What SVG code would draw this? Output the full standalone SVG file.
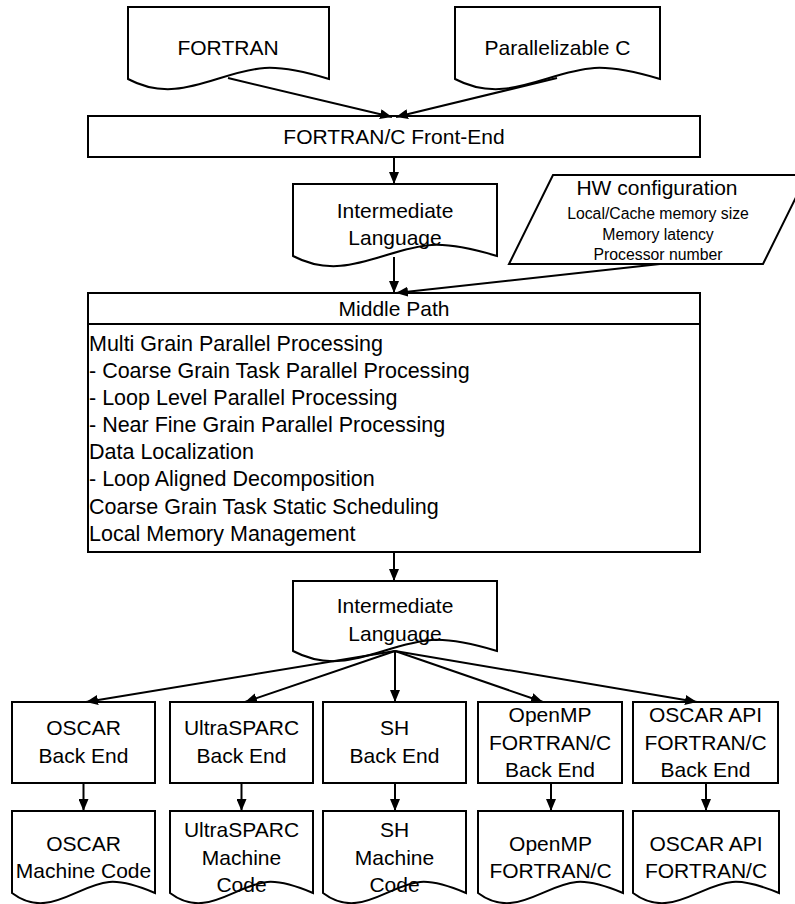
<svg xmlns="http://www.w3.org/2000/svg" width="795" height="904" viewBox="0 0 795 904">
  <defs>
    <marker id="ah" markerUnits="userSpaceOnUse" markerWidth="12" markerHeight="10" refX="12" refY="5" orient="auto">
      <path d="M0,0 L12,5 L0,10 z" fill="#000"/>
    </marker>
    <style>
      .shape { fill: #fff; stroke: #000; stroke-width: 2; }
      .wire { fill: none; stroke: #000; stroke-width: 2; marker-end: url(#ah); }
      text { font-family: "Liberation Sans", Arial, sans-serif; font-size: 21px; fill: #000; }
      .c { text-anchor: middle; }
      .list { font-size: 21.5px; }
      .small { font-size: 15.8px; }
    </style>
  </defs>
  <rect width="795" height="904" fill="#fff"/>

  <!-- source documents -->
  <g id="src-fortran">
    <path class="shape" d="M128,7 V79 C178.25,106 218.45,71 264.7,68 C284.8,66.7 308.9,73 329,79 V7 Z"/>
    <text class="c" x="228" y="55">FORTRAN</text>
  </g>
  <g id="src-c">
    <path class="shape" d="M455,7 V79 C506.25,106 547.25,71 594.4,68 C614.9,66.7 639.5,73 660,79 V7 Z"/>
    <text class="c" x="557.5" y="55">Parallelizable C</text>
  </g>

  <!-- front end -->
  <g id="front-end">
    <rect class="shape" x="88" y="116" width="612" height="41"/>
    <text class="c" x="394" y="144">FORTRAN/C Front-End</text>
  </g>

  <!-- intermediate language after front end -->
  <g id="il-1">
    <path class="shape" d="M293,184 V256 C344,283 384.8,248 431.7,245 C452.1,243.7 476.6,250 497,256 V184 Z"/>
    <text class="c" x="395" y="218">Intermediate</text>
    <text class="c" x="395" y="245">Language</text>
  </g>

  <!-- hardware configuration input -->
  <g id="hw-config">
    <polygon class="shape" points="553,175 807,175 763,264 509,264"/>
    <text class="c" x="657" y="195">HW configuration</text>
    <text class="c small" x="658" y="219">Local/Cache memory size</text>
    <text class="c small" x="658" y="240">Memory latency</text>
    <text class="c small" x="658" y="260">Processor number</text>
  </g>

  <!-- middle path -->
  <g id="middle-path">
    <rect class="shape" x="88" y="293" width="612" height="259"/>
    <line x1="88" y1="324" x2="700" y2="324" stroke="#000" stroke-width="2"/>
    <text class="c" x="394" y="316">Middle Path</text>
    <text class="list" x="89" y="351">Multi Grain Parallel Processing</text>
    <text class="list" x="89" y="378">- Coarse Grain Task Parallel Processing</text>
    <text class="list" x="89" y="405">- Loop Level Parallel Processing</text>
    <text class="list" x="89" y="432">- Near Fine Grain Parallel Processing</text>
    <text class="list" x="89" y="459">Data Localization</text>
    <text class="list" x="89" y="486">- Loop Aligned Decomposition</text>
    <text class="list" x="89" y="514">Coarse Grain Task Static Scheduling</text>
    <text class="list" x="89" y="541">Local Memory Management</text>
  </g>

  <!-- intermediate language after middle path -->
  <g id="il-2">
    <path class="shape" d="M293,581 V651 C344,678 384.8,643 431.7,640 C452.1,638.7 476.6,645 497,651 V581 Z"/>
    <text class="c" x="395" y="613">Intermediate</text>
    <text class="c" x="395" y="641">Language</text>
  </g>

  <!-- back ends -->
  <g id="be-oscar">
    <rect class="shape" x="12" y="702" width="143" height="81"/>
    <text class="c" x="83.5" y="735">OSCAR</text>
    <text class="c" x="83.5" y="763">Back End</text>
  </g>
  <g id="be-ultrasparc">
    <rect class="shape" x="170" y="702" width="143" height="81"/>
    <text class="c" x="241.5" y="735">UltraSPARC</text>
    <text class="c" x="241.5" y="763">Back End</text>
  </g>
  <g id="be-sh">
    <rect class="shape" x="323" y="702" width="143" height="81"/>
    <text class="c" x="394.5" y="735">SH</text>
    <text class="c" x="394.5" y="763">Back End</text>
  </g>
  <g id="be-openmp">
    <rect class="shape" x="478" y="702" width="144" height="81"/>
    <text class="c" x="550" y="722">OpenMP</text>
    <text class="c" x="550" y="750">FORTRAN/C</text>
    <text class="c" x="550" y="777">Back End</text>
  </g>
  <g id="be-oscar-api">
    <rect class="shape" x="633" y="702" width="145" height="81"/>
    <text class="c" x="705.5" y="722">OSCAR API</text>
    <text class="c" x="705.5" y="750">FORTRAN/C</text>
    <text class="c" x="705.5" y="777">Back End</text>
  </g>

  <!-- generated outputs -->
  <g id="out-oscar">
    <path class="shape" d="M12,811 V893 C47.75,920 76.35,885 109.2,882 C123.5,880.7 140.7,887 155,893 V811 Z"/>
    <text class="c" x="83.5" y="851">OSCAR</text>
    <text class="c" x="83.5" y="878">Machine Code</text>
  </g>
  <g id="out-ultrasparc">
    <path class="shape" d="M170,811 V893 C205.75,920 234.35,885 267.2,882 C281.5,880.7 298.7,887 313,893 V811 Z"/>
    <text class="c" x="241.5" y="837">UltraSPARC</text>
    <text class="c" x="241.5" y="865">Machine</text>
    <text class="c" x="241.5" y="892">Code</text>
  </g>
  <g id="out-sh">
    <path class="shape" d="M323,811 V893 C358.75,920 387.35,885 420.2,882 C434.5,880.7 451.7,887 466,893 V811 Z"/>
    <text class="c" x="394.5" y="837">SH</text>
    <text class="c" x="394.5" y="865">Machine</text>
    <text class="c" x="394.5" y="892">Code</text>
  </g>
  <g id="out-openmp">
    <path class="shape" d="M478,811 V893 C514.25,920 543.25,885 576.6,882 C591.1,880.7 608.5,887 623,893 V811 Z"/>
    <text class="c" x="550.5" y="851">OpenMP</text>
    <text class="c" x="550.5" y="878">FORTRAN/C</text>
  </g>
  <g id="out-oscar-api">
    <path class="shape" d="M633,811 V893 C669.5,920 698.7,885 732.3,882 C746.9,880.7 764.4,887 779,893 V811 Z"/>
    <text class="c" x="706" y="851">OSCAR API</text>
    <text class="c" x="706" y="878">FORTRAN/C</text>
  </g>

  <!-- connectors -->
  <g id="connectors">
    <line class="wire" x1="228" y1="78" x2="392" y2="117"/>
    <line class="wire" x1="557" y1="78" x2="396" y2="117"/>
    <line class="wire" x1="394" y1="157" x2="394" y2="184"/>
    <line class="wire" x1="394" y1="257" x2="394" y2="293"/>
    <line class="wire" x1="660" y1="264" x2="396" y2="293"/>
    <line class="wire" x1="394" y1="552" x2="394" y2="581"/>
    <line class="wire" x1="395" y1="651" x2="86" y2="702"/>
    <line class="wire" x1="395" y1="651" x2="245" y2="702"/>
    <line class="wire" x1="395" y1="651" x2="395" y2="702"/>
    <line class="wire" x1="395" y1="651" x2="543" y2="702"/>
    <line class="wire" x1="395" y1="651" x2="697" y2="702"/>
    <line class="wire" x1="83.5" y1="783" x2="83.5" y2="811"/>
    <line class="wire" x1="241.5" y1="783" x2="241.5" y2="811"/>
    <line class="wire" x1="395" y1="783" x2="395" y2="811"/>
    <line class="wire" x1="551" y1="783" x2="551" y2="811"/>
    <line class="wire" x1="706" y1="783" x2="706" y2="811"/>
  </g>
</svg>
